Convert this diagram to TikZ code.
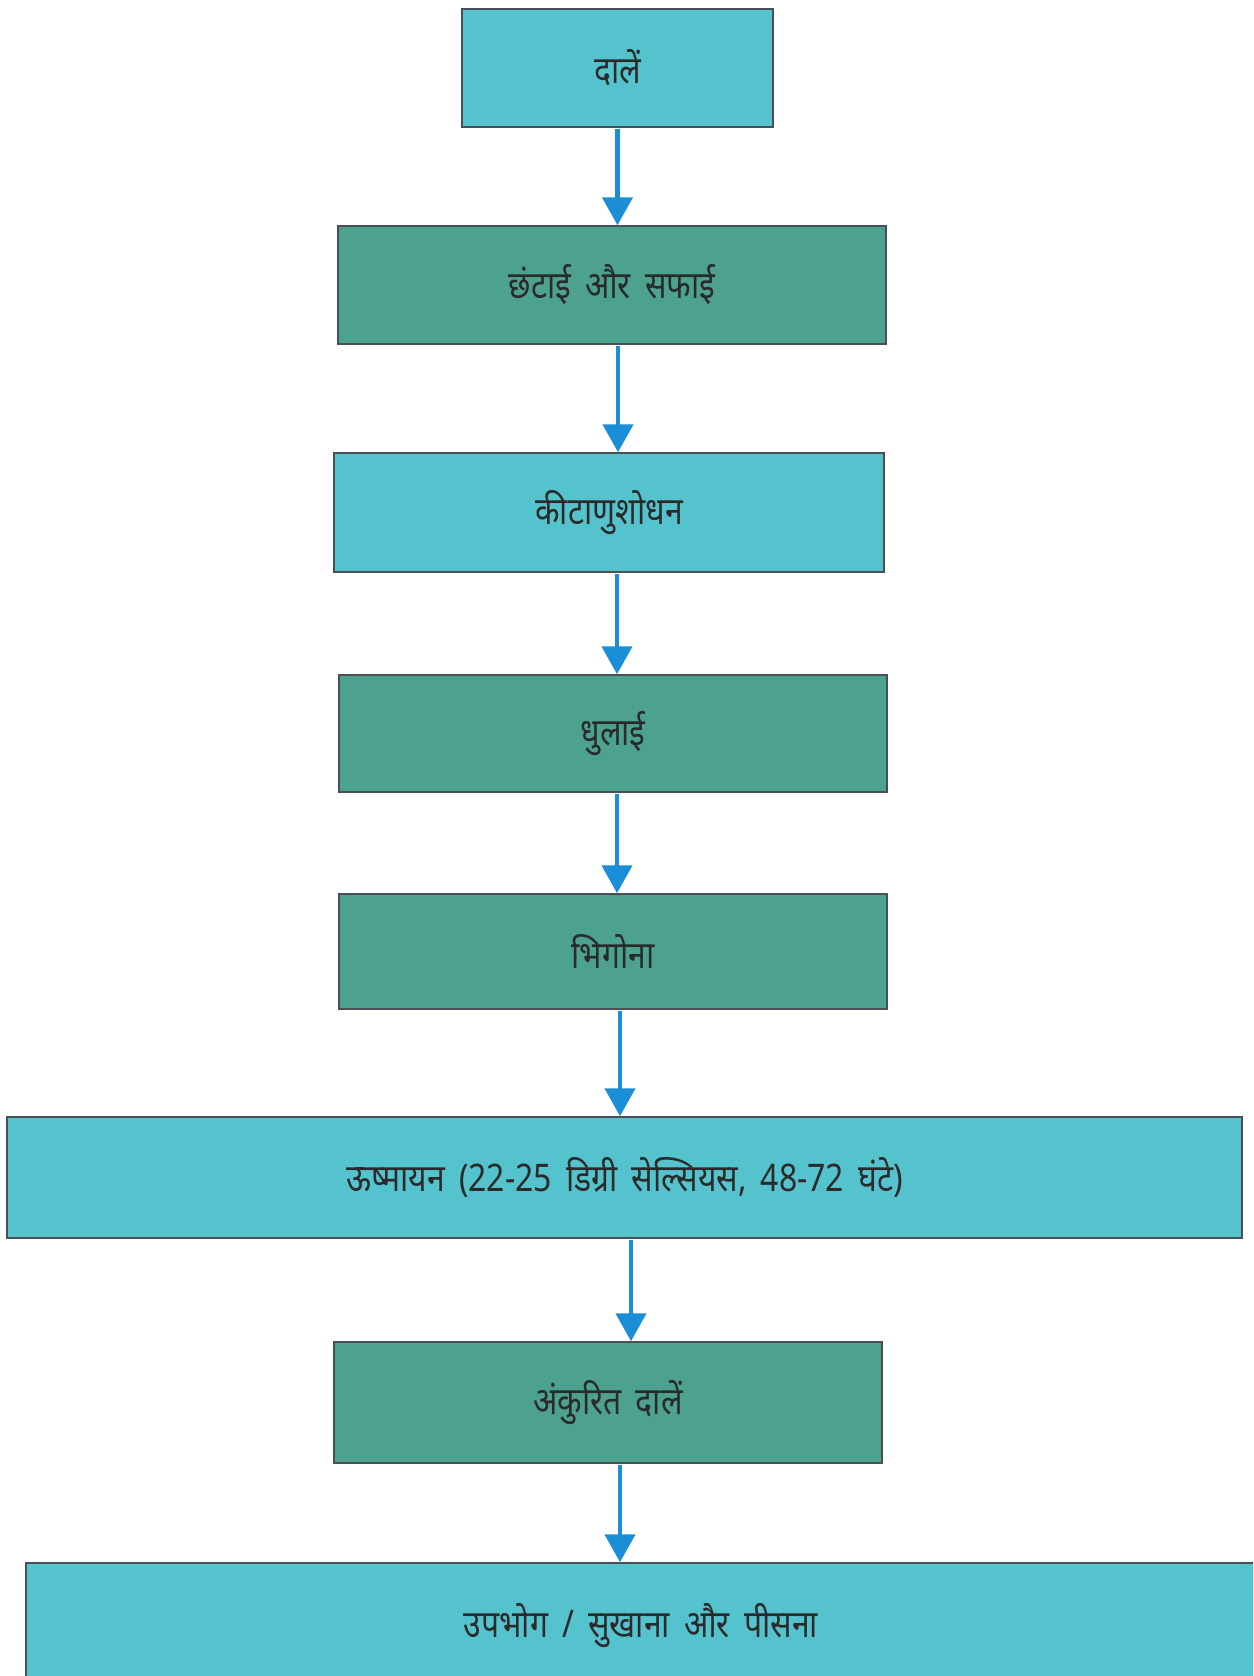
\documentclass[tikz,border=0pt]{standalone}
\usepackage{fontspec}
\setmainfont{Noto Sans}
\newfontfamily\deva[Script=Devanagari,FakeStretch=0.84,WordSpace=1.7]{Noto Sans}
\usetikzlibrary{arrows.meta}
\definecolor{lightteal}{HTML}{55C3CD}
\definecolor{darkteal}{HTML}{4DA28F}
\definecolor{arrowblue}{HTML}{1A8FD8}
\definecolor{boxborder}{HTML}{4A4F55}
\definecolor{txt}{HTML}{2A2A2A}
\tikzset{
  stagebox/.style={draw=boxborder, line width=1.5pt, inner sep=0pt, text=txt,
    font=\deva\fontsize{38}{44}\selectfont},
  lightbox/.style={stagebox, fill=lightteal},
  darkbox/.style={stagebox, fill=darkteal},
  flow/.style={draw=arrowblue, line width=4.5pt,
    -{Triangle[width=30pt,length=28pt]}, arrowblue, shorten <=1pt}
}
\begin{document}
\begin{tikzpicture}[x=1pt,y=-1pt]
\clip (0,0) rectangle (1253,1676);
\fill[white] (0,0) rectangle (1253,1676);
\node[lightbox, minimum width=311pt, minimum height=118pt] (b1) at (617.5,68) {दालें};
\node[darkbox, minimum width=548pt, minimum height=118pt] (b2) at (612,285) {छंटाई और सफाई};
\node[lightbox, minimum width=550pt, minimum height=119pt] (b3) at (609,512.5) {कीटाणुशोधन};
\node[darkbox, minimum width=548pt, minimum height=117pt] (b4) at (613,733.5) {धुलाई};
\node[darkbox, minimum width=548pt, minimum height=115pt] (b5) at (613,951.5) {भिगोना};
\node[lightbox, minimum width=1235pt, minimum height=121pt] (b6) at (624.5,1177.5) {ऊष्मायन (22-25 डिग्री सेल्सियस, 48-72 घंटे)};
\node[darkbox, minimum width=548pt, minimum height=121pt] (b7) at (608,1402.5) {अंकुरित दालें};
\node[lightbox, minimum width=1230pt, minimum height=126pt] (b8) at (641,1626) {उपभोग / सुखाना और पीसना};
\draw[flow] (b1.south) -- (b1.south |- b2.north);
\draw[flow] ([xshift=6pt]b2.south) -- ([xshift=6pt]b2.south |- b3.north);
\draw[flow] ([xshift=8pt]b3.south) -- ([xshift=8pt]b3.south |- b4.north);
\draw[flow] ([xshift=4pt]b4.south) -- ([xshift=4pt]b4.south |- b5.north);
\draw[flow] ([xshift=7pt]b5.south) -- ([xshift=7pt]b5.south |- b6.north);
\draw[flow] ([xshift=6.5pt]b6.south) -- ([xshift=6.5pt]b6.south |- b7.north);
\draw[flow] ([xshift=12pt]b7.south) -- ([xshift=12pt]b7.south |- b8.north);
\end{tikzpicture}
\end{document}
